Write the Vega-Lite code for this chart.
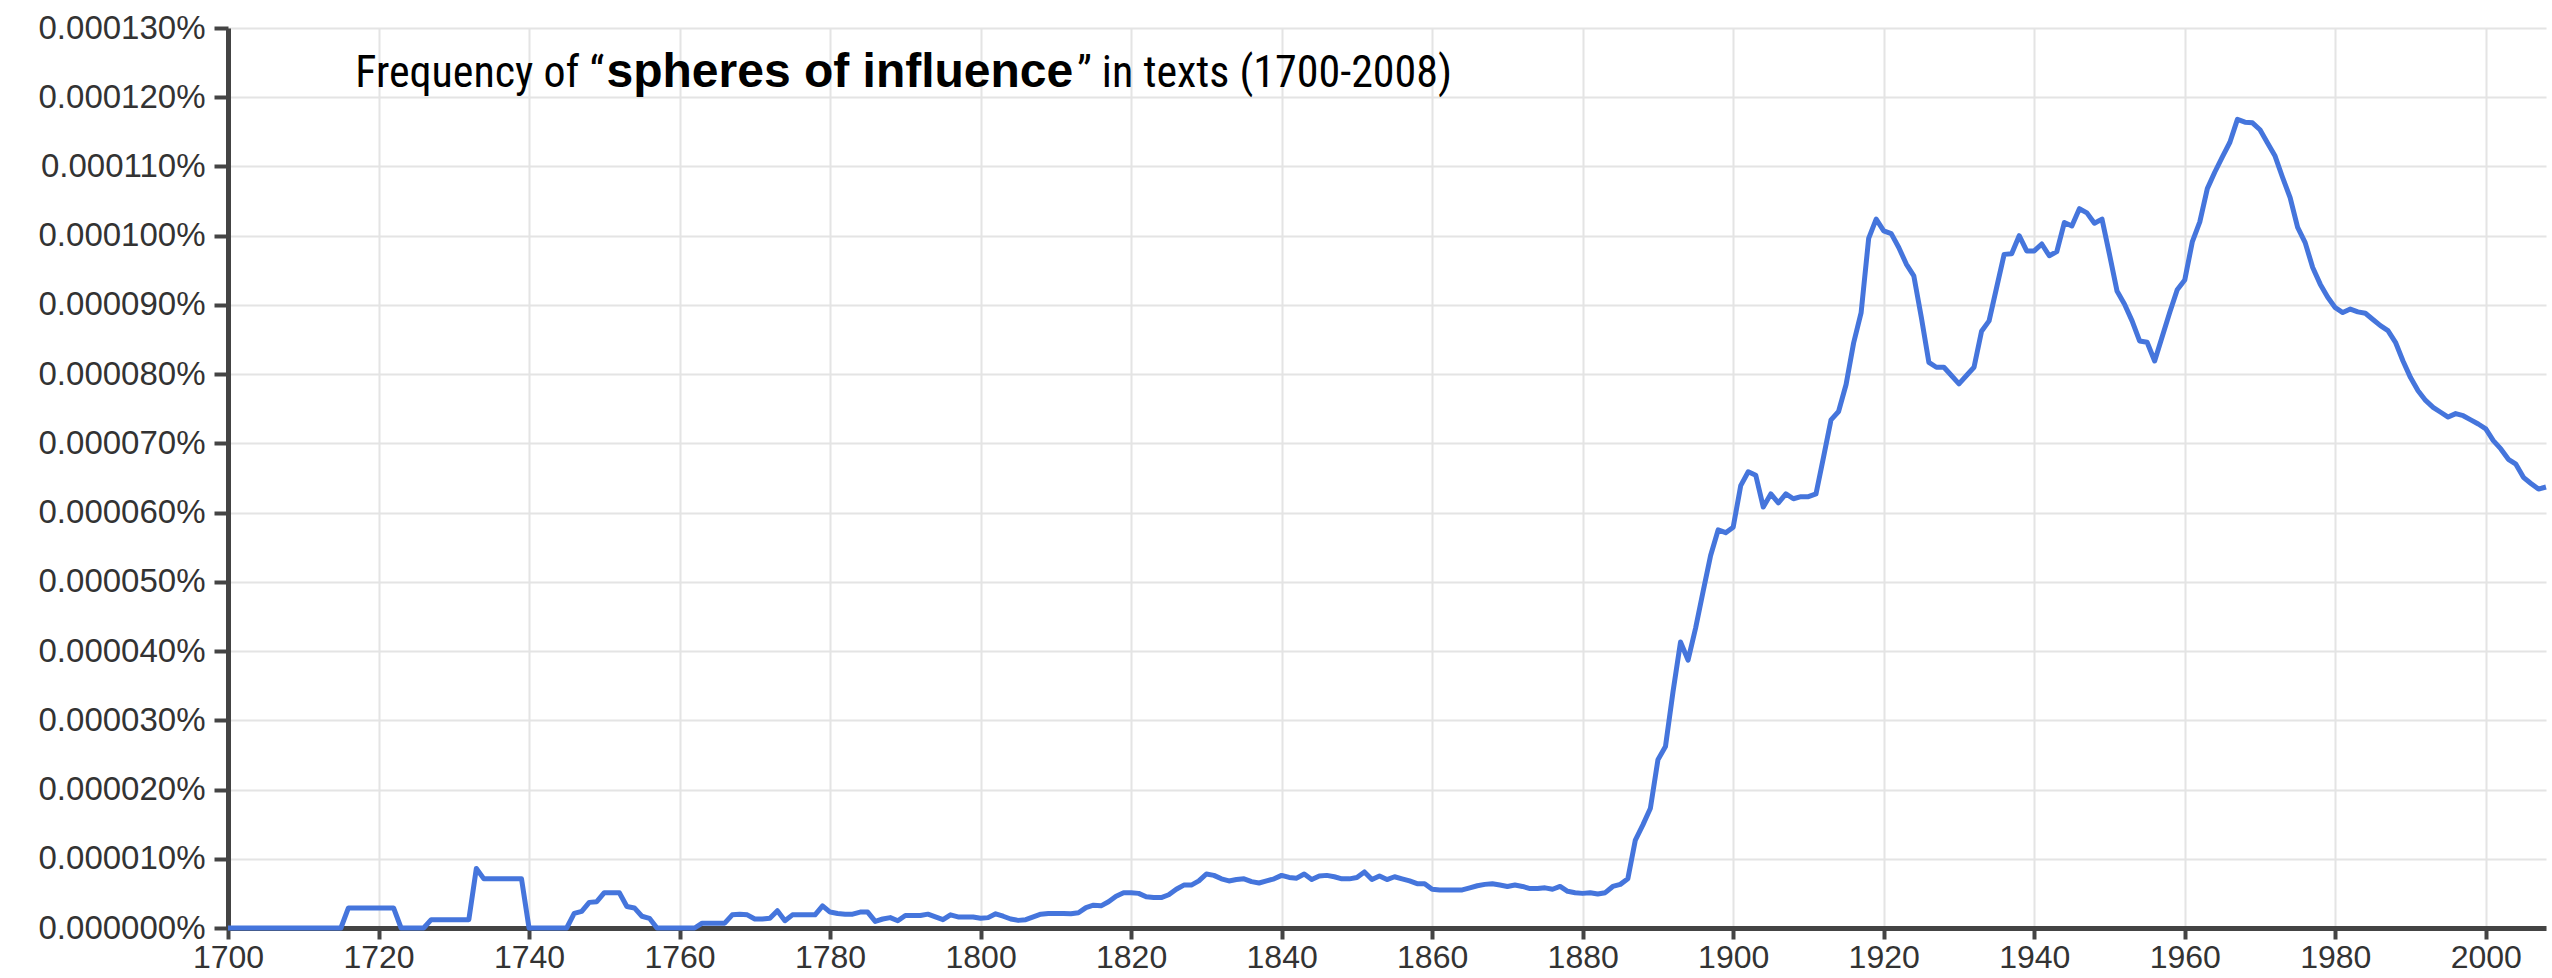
{
  "$schema": "https://vega.github.io/schema/vega-lite/v6.json",
  "width": 2318,
  "height": 900,
  "autosize": {"type": "none"},
  "padding": {"left": 228, "top": 28, "right": 6, "bottom": 50},
  "background": "white",
  "config": {
    "view": {"stroke": null},
    "axis": {
      "domainColor": "#444444",
      "domainWidth": 5,
      "tickColor": "#444444",
      "tickWidth": 4,
      "gridColor": "#e4e4e4",
      "gridWidth": 2,
      "labelFont": "Liberation Sans",
      "labelColor": "#333333",
      "labelFlush": false,
      "labelOverlap": false,
      "title": null
    },
    "axisX": {"labelFontSize": 32, "tickSize": 11, "labelPadding": 3},
    "axisY": {"labelFontSize": 33, "tickSize": 14, "labelPadding": 9}
  },
  "layer": [
    {
      "data": {"values": [
        {"year":1700,"freq":0},{"year":1701,"freq":0},{"year":1702,"freq":0},{"year":1703,"freq":0},{"year":1704,"freq":0},
        {"year":1705,"freq":0},{"year":1706,"freq":0},{"year":1707,"freq":0},{"year":1708,"freq":0},{"year":1709,"freq":0},
        {"year":1710,"freq":0},{"year":1711,"freq":0},{"year":1712,"freq":0},{"year":1713,"freq":0},{"year":1714,"freq":0},
        {"year":1715,"freq":0},{"year":1716,"freq":2.9e-6},{"year":1717,"freq":2.9e-6},{"year":1718,"freq":2.9e-6},{"year":1719,"freq":2.9e-6},
        {"year":1720,"freq":2.9e-6},{"year":1721,"freq":2.9e-6},{"year":1722,"freq":2.9e-6},{"year":1723,"freq":0},{"year":1724,"freq":0},
        {"year":1725,"freq":0},{"year":1726,"freq":0},{"year":1727,"freq":1.2e-6},{"year":1728,"freq":1.2e-6},{"year":1729,"freq":1.2e-6},
        {"year":1730,"freq":1.2e-6},{"year":1731,"freq":1.2e-6},{"year":1732,"freq":1.2e-6},{"year":1733,"freq":8.6e-6},{"year":1734,"freq":7.1e-6},
        {"year":1735,"freq":7.1e-6},{"year":1736,"freq":7.1e-6},{"year":1737,"freq":7.1e-6},{"year":1738,"freq":7.1e-6},{"year":1739,"freq":7.1e-6},
        {"year":1740,"freq":0},{"year":1741,"freq":0},{"year":1742,"freq":0},{"year":1743,"freq":0},{"year":1744,"freq":0},
        {"year":1745,"freq":0},{"year":1746,"freq":2.1e-6},{"year":1747,"freq":2.4e-6},{"year":1748,"freq":3.7e-6},{"year":1749,"freq":3.8e-6},
        {"year":1750,"freq":5.1e-6},{"year":1751,"freq":5.1e-6},{"year":1752,"freq":5.1e-6},{"year":1753,"freq":3.1e-6},{"year":1754,"freq":2.9e-6},
        {"year":1755,"freq":1.7e-6},{"year":1756,"freq":1.4e-6},{"year":1757,"freq":0},{"year":1758,"freq":0},{"year":1759,"freq":0},
        {"year":1760,"freq":0},{"year":1761,"freq":0},{"year":1762,"freq":0},{"year":1763,"freq":0.7e-6},{"year":1764,"freq":0.7e-6},
        {"year":1765,"freq":0.7e-6},{"year":1766,"freq":0.7e-6},{"year":1767,"freq":1.9e-6},{"year":1768,"freq":2.0e-6},{"year":1769,"freq":1.9e-6},
        {"year":1770,"freq":1.3e-6},{"year":1771,"freq":1.3e-6},{"year":1772,"freq":1.4e-6},{"year":1773,"freq":2.5e-6},{"year":1774,"freq":1.05e-6},
        {"year":1775,"freq":1.9e-6},{"year":1776,"freq":1.9e-6},{"year":1777,"freq":1.9e-6},{"year":1778,"freq":1.9e-6},{"year":1779,"freq":3.2e-6},
        {"year":1780,"freq":2.3e-6},{"year":1781,"freq":2.1e-6},{"year":1782,"freq":2.0e-6},{"year":1783,"freq":2.0e-6},{"year":1784,"freq":2.3e-6},
        {"year":1785,"freq":2.3e-6},{"year":1786,"freq":0.95e-6},{"year":1787,"freq":1.3e-6},{"year":1788,"freq":1.5e-6},{"year":1789,"freq":1.05e-6},
        {"year":1790,"freq":1.8e-6},{"year":1791,"freq":1.8e-6},{"year":1792,"freq":1.8e-6},{"year":1793,"freq":2.0e-6},{"year":1794,"freq":1.6e-6},
        {"year":1795,"freq":1.2e-6},{"year":1796,"freq":1.9e-6},{"year":1797,"freq":1.6e-6},{"year":1798,"freq":1.6e-6},{"year":1799,"freq":1.6e-6},
        {"year":1800,"freq":1.4e-6},{"year":1801,"freq":1.5e-6},{"year":1802,"freq":2.05e-6},{"year":1803,"freq":1.7e-6},{"year":1804,"freq":1.3e-6},
        {"year":1805,"freq":1.1e-6},{"year":1806,"freq":1.2e-6},{"year":1807,"freq":1.6e-6},{"year":1808,"freq":2.0e-6},{"year":1809,"freq":2.1e-6},
        {"year":1810,"freq":2.1e-6},{"year":1811,"freq":2.1e-6},{"year":1812,"freq":2.05e-6},{"year":1813,"freq":2.2e-6},{"year":1814,"freq":2.95e-6},
        {"year":1815,"freq":3.3e-6},{"year":1816,"freq":3.2e-6},{"year":1817,"freq":3.8e-6},{"year":1818,"freq":4.6e-6},{"year":1819,"freq":5.1e-6},
        {"year":1820,"freq":5.1e-6},{"year":1821,"freq":5.0e-6},{"year":1822,"freq":4.5e-6},{"year":1823,"freq":4.4e-6},{"year":1824,"freq":4.4e-6},
        {"year":1825,"freq":4.8e-6},{"year":1826,"freq":5.6e-6},{"year":1827,"freq":6.2e-6},{"year":1828,"freq":6.2e-6},{"year":1829,"freq":6.8e-6},
        {"year":1830,"freq":7.8e-6},{"year":1831,"freq":7.6e-6},{"year":1832,"freq":7.1e-6},{"year":1833,"freq":6.8e-6},{"year":1834,"freq":7.0e-6},
        {"year":1835,"freq":7.1e-6},{"year":1836,"freq":6.7e-6},{"year":1837,"freq":6.5e-6},{"year":1838,"freq":6.8e-6},{"year":1839,"freq":7.1e-6},
        {"year":1840,"freq":7.6e-6},{"year":1841,"freq":7.3e-6},{"year":1842,"freq":7.2e-6},{"year":1843,"freq":7.8e-6},{"year":1844,"freq":7.0e-6},
        {"year":1845,"freq":7.5e-6},{"year":1846,"freq":7.6e-6},{"year":1847,"freq":7.4e-6},{"year":1848,"freq":7.1e-6},{"year":1849,"freq":7.1e-6},
        {"year":1850,"freq":7.3e-6},{"year":1851,"freq":8.1e-6},{"year":1852,"freq":7.0e-6},{"year":1853,"freq":7.5e-6},{"year":1854,"freq":7.0e-6},
        {"year":1855,"freq":7.4e-6},{"year":1856,"freq":7.1e-6},{"year":1857,"freq":6.8e-6},{"year":1858,"freq":6.4e-6},{"year":1859,"freq":6.4e-6},
        {"year":1860,"freq":5.6e-6},{"year":1861,"freq":5.5e-6},{"year":1862,"freq":5.5e-6},{"year":1863,"freq":5.5e-6},{"year":1864,"freq":5.5e-6},
        {"year":1865,"freq":5.8e-6},{"year":1866,"freq":6.1e-6},{"year":1867,"freq":6.3e-6},{"year":1868,"freq":6.4e-6},{"year":1869,"freq":6.2e-6},
        {"year":1870,"freq":6.0e-6},{"year":1871,"freq":6.2e-6},{"year":1872,"freq":6.0e-6},{"year":1873,"freq":5.7e-6},{"year":1874,"freq":5.7e-6},
        {"year":1875,"freq":5.8e-6},{"year":1876,"freq":5.6e-6},{"year":1877,"freq":6.0e-6},{"year":1878,"freq":5.3e-6},{"year":1879,"freq":5.1e-6},
        {"year":1880,"freq":5.0e-6},{"year":1881,"freq":5.1e-6},{"year":1882,"freq":4.9e-6},{"year":1883,"freq":5.1e-6},{"year":1884,"freq":6.0e-6},
        {"year":1885,"freq":6.3e-6},{"year":1886,"freq":7.1e-6},{"year":1887,"freq":12.7e-6},{"year":1888,"freq":14.9e-6},{"year":1889,"freq":17.3e-6},
        {"year":1890,"freq":24.3e-6},{"year":1891,"freq":26.2e-6},{"year":1892,"freq":34.1e-6},{"year":1893,"freq":41.3e-6},{"year":1894,"freq":38.7e-6},
        {"year":1895,"freq":43.3e-6},{"year":1896,"freq":48.6e-6},{"year":1897,"freq":53.8e-6},{"year":1898,"freq":57.5e-6},{"year":1899,"freq":57.1e-6},
        {"year":1900,"freq":57.9e-6},{"year":1901,"freq":63.9e-6},{"year":1902,"freq":65.9e-6},{"year":1903,"freq":65.4e-6},{"year":1904,"freq":60.8e-6},
        {"year":1905,"freq":62.7e-6},{"year":1906,"freq":61.4e-6},{"year":1907,"freq":62.7e-6},{"year":1908,"freq":62.0e-6},{"year":1909,"freq":62.3e-6},
        {"year":1910,"freq":62.3e-6},{"year":1911,"freq":62.7e-6},{"year":1912,"freq":68.0e-6},{"year":1913,"freq":73.4e-6},{"year":1914,"freq":74.6e-6},
        {"year":1915,"freq":78.5e-6},{"year":1916,"freq":84.5e-6},{"year":1917,"freq":88.9e-6},{"year":1918,"freq":99.6e-6},{"year":1919,"freq":102.4e-6},
        {"year":1920,"freq":100.7e-6},{"year":1921,"freq":100.3e-6},{"year":1922,"freq":98.3e-6},{"year":1923,"freq":95.9e-6},{"year":1924,"freq":94.2e-6},
        {"year":1925,"freq":88.2e-6},{"year":1926,"freq":81.7e-6},{"year":1927,"freq":81.0e-6},{"year":1928,"freq":81.0e-6},{"year":1929,"freq":79.8e-6},
        {"year":1930,"freq":78.6e-6},{"year":1931,"freq":79.8e-6},{"year":1932,"freq":81.0e-6},{"year":1933,"freq":86.2e-6},{"year":1934,"freq":87.7e-6},
        {"year":1935,"freq":92.5e-6},{"year":1936,"freq":97.3e-6},{"year":1937,"freq":97.4e-6},{"year":1938,"freq":100.0e-6},{"year":1939,"freq":97.8e-6},
        {"year":1940,"freq":97.8e-6},{"year":1941,"freq":98.8e-6},{"year":1942,"freq":97.1e-6},{"year":1943,"freq":97.7e-6},{"year":1944,"freq":101.9e-6},
        {"year":1945,"freq":101.4e-6},{"year":1946,"freq":103.9e-6},{"year":1947,"freq":103.3e-6},{"year":1948,"freq":101.8e-6},{"year":1949,"freq":102.4e-6},
        {"year":1950,"freq":97.3e-6},{"year":1951,"freq":92.0e-6},{"year":1952,"freq":90.1e-6},{"year":1953,"freq":87.7e-6},{"year":1954,"freq":84.8e-6},
        {"year":1955,"freq":84.6e-6},{"year":1956,"freq":81.9e-6},{"year":1957,"freq":85.4e-6},{"year":1958,"freq":88.9e-6},{"year":1959,"freq":92.2e-6},
        {"year":1960,"freq":93.6e-6},{"year":1961,"freq":99.1e-6},{"year":1962,"freq":102.0e-6},{"year":1963,"freq":106.8e-6},{"year":1964,"freq":109.2e-6},
        {"year":1965,"freq":111.4e-6},{"year":1966,"freq":113.5e-6},{"year":1967,"freq":116.8e-6},{"year":1968,"freq":116.4e-6},{"year":1969,"freq":116.3e-6},
        {"year":1970,"freq":115.3e-6},{"year":1971,"freq":113.4e-6},{"year":1972,"freq":111.5e-6},{"year":1973,"freq":108.4e-6},{"year":1974,"freq":105.5e-6},
        {"year":1975,"freq":101.2e-6},{"year":1976,"freq":99.0e-6},{"year":1977,"freq":95.4e-6},{"year":1978,"freq":93.0e-6},{"year":1979,"freq":91.1e-6},
        {"year":1980,"freq":89.6e-6},{"year":1981,"freq":88.9e-6},{"year":1982,"freq":89.4e-6},{"year":1983,"freq":89.0e-6},{"year":1984,"freq":88.8e-6},
        {"year":1985,"freq":87.9e-6},{"year":1986,"freq":87.0e-6},{"year":1987,"freq":86.3e-6},{"year":1988,"freq":84.6e-6},{"year":1989,"freq":81.9e-6},
        {"year":1990,"freq":79.5e-6},{"year":1991,"freq":77.6e-6},{"year":1992,"freq":76.2e-6},{"year":1993,"freq":75.2e-6},{"year":1994,"freq":74.5e-6},
        {"year":1995,"freq":73.8e-6},{"year":1996,"freq":74.3e-6},{"year":1997,"freq":74.0e-6},{"year":1998,"freq":73.4e-6},{"year":1999,"freq":72.8e-6},
        {"year":2000,"freq":72.1e-6},{"year":2001,"freq":70.4e-6},{"year":2002,"freq":69.2e-6},{"year":2003,"freq":67.7e-6},{"year":2004,"freq":67.0e-6},
        {"year":2005,"freq":65.1e-6},{"year":2006,"freq":64.2e-6},{"year":2007,"freq":63.4e-6},{"year":2008,"freq":63.7e-6}
      ]},
      "mark": {"type": "line", "color": "#4575dc", "strokeWidth": 5, "strokeJoin": "round"},
      "encoding": {
        "x": {
          "field": "year", "type": "quantitative",
          "scale": {"domain": [1700, 2008], "nice": false, "zero": false},
          "axis": {"values": [1700,1720,1740,1760,1780,1800,1820,1840,1860,1880,1900,1920,1940,1960,1980,2000], "format": "d", "title": null}
        },
        "y": {
          "field": "freq", "type": "quantitative",
          "scale": {"domain": [0, 0.00013], "nice": false},
          "axis": {
            "values": [0,0.00001,0.00002,0.00003,0.00004,0.00005,0.00006,0.00007,0.00008,0.00009,0.0001,0.00011,0.00012,0.00013],
            "labelExpr": "format(datum.value, '.6f') + '%'",
            "title": null
          }
        }
      }
    },
    {
      "data": {"values": [{"part": "Frequency of “"}]},
      "mark": {"type": "text", "align": "right", "baseline": "alphabetic", "font": "Roboto Condensed, Liberation Sans Narrow, DejaVu Sans Condensed, Liberation Sans", "fontSize": 44, "color": "#000000"},
      "encoding": {
        "x": {"datum": 1750.0, "type": "quantitative"},
        "y": {"datum": 0.0001215, "type": "quantitative"},
        "text": {"field": "part"}
      }
    },
    {
      "data": {"values": [{"part": "spheres of influence"}]},
      "mark": {"type": "text", "align": "center", "baseline": "alphabetic", "font": "Liberation Sans", "fontWeight": "bold", "fontSize": 48, "color": "#000000"},
      "encoding": {
        "x": {"datum": 1781.3, "type": "quantitative"},
        "y": {"datum": 0.0001215, "type": "quantitative"},
        "text": {"field": "part"}
      }
    },
    {
      "data": {"values": [{"part": "” in texts (1700-2008)"}]},
      "mark": {"type": "text", "align": "left", "baseline": "alphabetic", "font": "Roboto Condensed, Liberation Sans Narrow, DejaVu Sans Condensed, Liberation Sans", "fontSize": 44, "color": "#000000"},
      "encoding": {
        "x": {"datum": 1812.8, "type": "quantitative"},
        "y": {"datum": 0.0001215, "type": "quantitative"},
        "text": {"field": "part"}
      }
    }
  ]
}
